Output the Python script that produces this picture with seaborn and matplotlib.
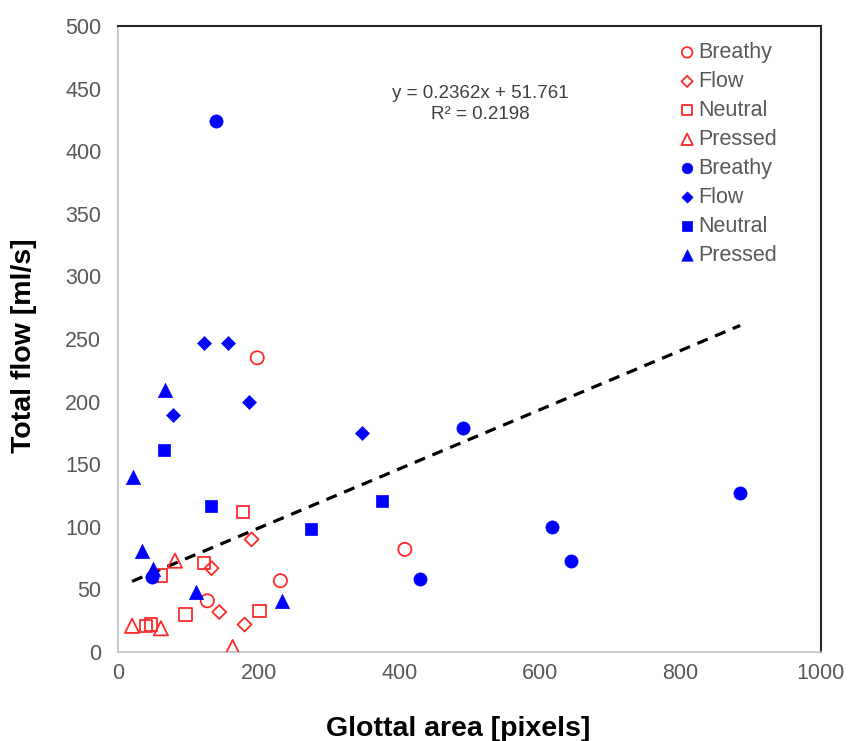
import numpy as np
import pandas as pd
import matplotlib
matplotlib.use("Agg")
import matplotlib.pyplot as plt
import seaborn as sns

# Data
# open (red) markers
breathy_open_x = [198, 231, 127, 408]
breathy_open_y = [235, 57, 41, 82]
flow_open_x = [190, 133, 144, 180]
flow_open_y = [90, 67, 32, 22]
neutral_open_x = [178, 122, 61, 96, 201, 40, 47]
neutral_open_y = [112, 71, 61, 30, 33, 21, 22]
pressed_open_x = [81, 20, 61, 163]
pressed_open_y = [73, 21, 19, 4]

# filled (blue) markers
breathy_fill_x = [140, 48, 491, 617, 645, 430, 885]
breathy_fill_y = [424, 60, 179, 100, 73, 58, 127]
flow_fill_x = [122, 157, 186, 78, 347]
flow_fill_y = [247, 247, 200, 189, 175]
neutral_fill_x = [65, 132, 376, 275]
neutral_fill_y = [161, 117, 121, 98]
pressed_fill_x = [67, 21, 34, 50, 111, 233]
pressed_fill_y = [209, 140, 81, 66, 48, 41]

slope = 0.2362
intercept = 51.761
r2 = 0.2198

modes = ["Breathy", "Flow", "Neutral", "Pressed"]
markers = {"Breathy": "o", "Flow": "D", "Neutral": "s", "Pressed": "^"}
sizes = {"Breathy": 90, "Flow": 50, "Neutral": 80, "Pressed": 105}

open_data = {
    "Breathy": (breathy_open_x, breathy_open_y),
    "Flow": (flow_open_x, flow_open_y),
    "Neutral": (neutral_open_x, neutral_open_y),
    "Pressed": (pressed_open_x, pressed_open_y),
}
fill_data = {
    "Breathy": (breathy_fill_x, breathy_fill_y),
    "Flow": (flow_fill_x, flow_fill_y),
    "Neutral": (neutral_fill_x, neutral_fill_y),
    "Pressed": (pressed_fill_x, pressed_fill_y),
}

sns.set_style("white")
plt.rcParams['font.family'] = ['Liberation Sans', 'DejaVu Sans']

fig = plt.figure(figsize=(8.49, 7.41), dpi=100)
ax = fig.add_axes([0.139, 0.120, 0.828, 0.845])

red = "#FF2A2A"
blue = "#0000FF"

for m in modes:
    xs, ys = open_data[m]
    df = pd.DataFrame({"x": xs, "y": ys})
    sns.scatterplot(data=df, x="x", y="y", marker=markers[m], s=sizes[m],
                    facecolor="none", edgecolor=red, linewidth=1.3,
                    label=m, ax=ax, zorder=3)
for m in modes:
    xs, ys = fill_data[m]
    df = pd.DataFrame({"x": xs, "y": ys})
    sns.scatterplot(data=df, x="x", y="y", marker=markers[m], s=sizes[m],
                    color=blue, edgecolor=blue, linewidth=0.5,
                    label=m, ax=ax, zorder=3)

# linear trend line over all points
all_x = np.concatenate([np.array(v[0]) for v in list(open_data.values()) + list(fill_data.values())])
xl = np.array([all_x.min(), all_x.max()])
sns.lineplot(x=xl, y=slope * xl + intercept, color="black", linestyle=(0, (3.5, 2.5)),
             linewidth=2.3, ax=ax, zorder=2)

ax.text(0.516, 0.876, f"y = {slope}x + {intercept}\nR² = {r2}", transform=ax.transAxes,
        ha="center", va="center", fontsize=13.5, color="#404040", linespacing=1.3)

ax.set_xlim(0, 1000)
ax.set_ylim(0, 500)
ax.set_xticks(np.arange(0, 1001, 200))
ax.set_yticks(np.arange(0, 501, 50))
ax.tick_params(axis="both", length=0, labelsize=15.5, labelcolor="#595959")
ax.tick_params(axis="x", pad=8)
ax.tick_params(axis="y", pad=12)

ax.set_xlabel("Glottal area [pixels]", fontsize=20.5, fontweight="bold", color="black")
ax.set_ylabel("Total flow [ml/s]", fontsize=20.5, fontweight="bold", color="black")
ax.xaxis.set_label_coords(0.484, -0.102)
ax.yaxis.set_label_coords(-0.115, 0.49)

for s in ["left", "bottom"]:
    ax.spines[s].set_color("#BFBFBF")
    ax.spines[s].set_linewidth(1.2)
for s in ["top", "right"]:
    ax.spines[s].set_color("#262626")
    ax.spines[s].set_linewidth(1.5)

leg = ax.legend(loc="upper left", bbox_to_anchor=(0.782, 0.988), frameon=False,
                fontsize=15.5, handletextpad=0.0, handlelength=1.0,
                labelspacing=0.37, markerscale=0.8, borderaxespad=0)
for t in leg.get_texts():
    t.set_color("#595959")

fig.savefig("out.png", dpi=100)
